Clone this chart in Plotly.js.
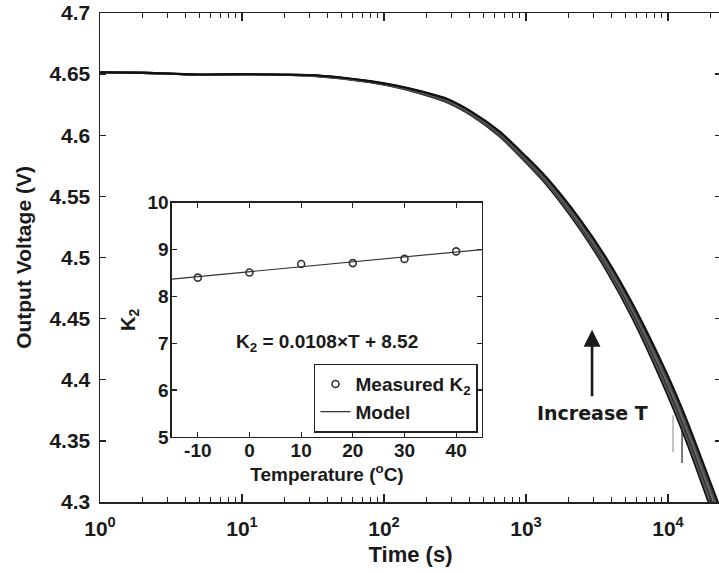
<!DOCTYPE html>
<html>
<head>
<meta charset="utf-8">
<script src="https://cdn.plot.ly/plotly-3.0.1.min.js"></script>
<style>
html,body{margin:0;padding:0;overflow:hidden;background:#fff;}
#chart{width:721px;height:573px;}
</style>
</head>
<body>
<div id="chart"></div>
<script>
// ---- main chart data: output voltage vs time (s), one curve per temperature ----
const timeS = [1, 2, 3, 5, 10, 20, 30, 50, 80, 120, 180, 280, 420, 650, 1000, 1400, 2400, 3700, 5700, 9800, 13600, 19800, 24000];
const voltTm10 = [4.6515, 4.651, 4.6505, 4.6493, 4.650, 4.6495, 4.6488, 4.6465, 4.6433, 4.6394, 4.6342, 4.6268, 4.6157, 4.5992, 4.5776, 4.5592, 4.5232, 4.4890, 4.4489, 4.3891, 4.3484, 4.2964, 4.2699];
const voltT0   = [4.6515, 4.651, 4.6505, 4.6494, 4.650, 4.6495, 4.6489, 4.6466, 4.6435, 4.6397, 4.6346, 4.6274, 4.6163, 4.6000, 4.5786, 4.5604, 4.5248, 4.4910, 4.4513, 4.3923, 4.3520, 4.3004, 4.2741];
const voltT10  = [4.6515, 4.651, 4.6505, 4.6495, 4.650, 4.6495, 4.649, 4.6468, 4.6437, 4.6399, 4.6349, 4.6279, 4.6169, 4.6008, 4.5796, 4.5616, 4.5264, 4.4930, 4.4537, 4.3955, 4.3556, 4.3044, 4.2783];
const voltT20  = [4.6515, 4.651, 4.6505, 4.6495, 4.650, 4.6495, 4.6491, 4.6469, 4.6439, 4.6402, 4.6353, 4.6285, 4.6175, 4.6016, 4.5806, 4.5628, 4.5280, 4.4950, 4.4561, 4.3987, 4.3592, 4.3084, 4.2825];
const voltT30  = [4.6515, 4.651, 4.6505, 4.6496, 4.650, 4.6495, 4.6492, 4.6471, 4.6441, 4.6405, 4.6357, 4.6290, 4.6181, 4.6024, 4.5816, 4.5640, 4.5296, 4.4970, 4.4585, 4.4019, 4.3628, 4.3124, 4.2867];
const voltT40  = [4.6515, 4.651, 4.6505, 4.6497, 4.650, 4.6495, 4.6493, 4.6473, 4.6443, 4.6408, 4.6361, 4.6296, 4.6187, 4.6032, 4.5826, 4.5652, 4.5312, 4.4990, 4.4609, 4.4051, 4.3664, 4.3164, 4.2909];
// two short measurement glitches near 1e4 s
const glitch1T = [10840, 10840];
const glitch1V = [4.371, 4.341];
const glitch2T = [12550, 12550];
const glitch2V = [4.359, 4.332];

// main axis ticks
const xTickVals = [1, 10, 100, 1000, 10000];
const xTickText = ['10<sup>0</sup>', '10<sup>1</sup>', '10<sup>2</sup>', '10<sup>3</sup>', '10<sup>4</sup>'];
const xMinorVals = [2,3,4,5,6,7,8,9,20,30,40,50,60,70,80,90,200,300,400,500,600,700,800,900,2000,3000,4000,5000,6000,7000,8000,9000,20000];
const yTickVals = [4.3, 4.35, 4.4, 4.45, 4.5, 4.55, 4.6, 4.65, 4.7];
const yTickText = ['4.3', '4.35', '4.4', '4.45', '4.5', '4.55', '4.6', '4.65', '4.7'];

// ---- inset data: K2 vs temperature ----
const tempC = [-10, 0, 10, 20, 30, 40];
const k2Measured = [8.4, 8.51, 8.69, 8.71, 8.8, 8.96];
const modelTemp = [-15, 45];
const modelK2 = [8.37, 9.0];
const insetXTicks = [-10, 0, 10, 20, 30, 40];
const insetXText = ['-10', '0', '10', '20', '30', '40'];
const insetYTicks = [5, 6, 7, 8, 9, 10];

const mainFont = 'Liberation Sans, Arial, Helvetica, sans-serif';
const insetFont = 'Liberation Sans Narrow, Arial Narrow, Liberation Sans, Arial, sans-serif';

const curveSets = [voltTm10, voltT0, voltT10, voltT20, voltT30, voltT40];
const curveColors = ['#111', '#555', '#333', '#666', '#444', '#111'];
const traces = curveSets.map((v, i) => ({
  x: timeS, y: v, type: 'scatter', mode: 'lines',
  line: {color: curveColors[i], width: 2.1, shape: 'spline', smoothing: 0.8},
  showlegend: false, xaxis: 'x', yaxis: 'y', hoverinfo: 'skip'
}));
traces.push({x: glitch1T, y: glitch1V, type: 'scatter', mode: 'lines', line: {color: '#999', width: 1.2}, showlegend: false, xaxis: 'x', yaxis: 'y'});
traces.push({x: glitch2T, y: glitch2V, type: 'scatter', mode: 'lines', line: {color: '#222', width: 1.2}, showlegend: false, xaxis: 'x', yaxis: 'y'});

traces.push({
  x: tempC, y: k2Measured, type: 'scatter', mode: 'markers', name: 'Measured K<sub>2</sub>',
  marker: {symbol: 'circle-open', size: 7, color: '#333', line: {width: 1.6, color: '#333'}},
  xaxis: 'x2', yaxis: 'y2'
});
traces.push({
  x: modelTemp, y: modelK2, type: 'scatter', mode: 'lines', name: 'Model',
  line: {color: '#333', width: 1.2},
  xaxis: 'x2', yaxis: 'y2'
});

const layout = {
  width: 721, height: 573,
  margin: {l: 100, r: 0, t: 13, b: 71},
  paper_bgcolor: '#fff', plot_bgcolor: '#fff',
  font: {family: mainFont, color: '#1a1a1a'},
  xaxis: {
    type: 'log', range: [0, 4.373], domain: [0, 1],
    tickmode: 'array', tickvals: xTickVals, ticktext: xTickText,
    ticks: 'inside', ticklen: 8, tickwidth: 1.3, tickcolor: '#222',
    minor: {tickmode: 'array', tickvals: xMinorVals, ticks: 'inside', ticklen: 5, tickwidth: 1, tickcolor: '#222'},
    showline: true, linecolor: '#222', linewidth: 1.5, mirror: 'ticks',
    showgrid: false, zeroline: false,
    tickfont: {size: 21, family: mainFont, color: '#1a1a1a', weight: 'bold'},
    ticklabelstandoff: 7,
    title: {text: '<b>Time (s)</b>', font: {size: 22, family: mainFont, color: '#1a1a1a'}, standoff: 8}
  },
  yaxis: {
    range: [4.3, 4.7], domain: [0, 1],
    tickmode: 'array', tickvals: yTickVals, ticktext: yTickText,
    ticks: 'inside', ticklen: 6, tickwidth: 1.3, tickcolor: '#222',
    showline: true, linecolor: '#222', linewidth: 1.5, mirror: 'ticks',
    showgrid: false, zeroline: false,
    tickfont: {size: 21, family: mainFont, color: '#1a1a1a', weight: 'bold'},
    ticklabelstandoff: 4,
    title: {text: '<b>Output Voltage (V)</b>', font: {size: 21, family: mainFont, color: '#1a1a1a'}, standoff: 12}
  },
  xaxis2: {
    anchor: 'y2', domain: [0.1159, 0.6151], range: [-15, 45],
    tickmode: 'array', tickvals: insetXTicks, ticktext: insetXText,
    ticks: 'inside', ticklen: 5, tickwidth: 1.2, tickcolor: '#222',
    showline: true, linecolor: '#222', linewidth: 1.5, mirror: 'ticks',
    showgrid: false, zeroline: false,
    tickfont: {size: 19, family: insetFont, color: '#1a1a1a', weight: 'bold'},
    ticklabelstandoff: -4,
    title: {text: '<b>Temperature (<sup>o</sup>C)</b>', font: {size: 19, family: insetFont, color: '#1a1a1a'}, standoff: 0}
  },
  yaxis2: {
    anchor: 'x2', domain: [0.1331, 0.6121], range: [5, 10],
    tickmode: 'array', tickvals: insetYTicks,
    ticks: 'inside', ticklen: 5, tickwidth: 1.2, tickcolor: '#222',
    showline: true, linecolor: '#222', linewidth: 1.5, mirror: 'ticks',
    showgrid: false, zeroline: false,
    tickfont: {size: 19, family: insetFont, color: '#1a1a1a', weight: 'bold'},
    ticklabelstandoff: -2,
    title: {text: '<b>K<sub>2</sub></b>', font: {size: 20, family: insetFont, color: '#1a1a1a'}, standoff: 6}
  },
  showlegend: true,
  legend: {
    x: 0.3446, y: 0.283, xanchor: 'left', yanchor: 'top',
    bgcolor: '#fff', bordercolor: '#222', borderwidth: 1.5,
    font: {size: 19, family: insetFont, color: '#1a1a1a', weight: 'bold'},
    itemwidth: 30, tracegroupgap: 0
  },
  annotations: [
    {xref: 'x2', yref: 'y2', x: 15, y: 7, text: '<b>K<sub>2</sub> = 0.0108×T + 8.52</b>', showarrow: false,
     font: {size: 19, family: insetFont, color: '#1a1a1a'}},
    {xref: 'x', yref: 'y', x: 3.465, y: 4.373, text: '<b>Increase T</b>', showarrow: false,
     font: {size: 19, family: 'DejaVu Sans, Verdana, sans-serif', color: '#1a1a1a'}},
    {xref: 'x', yref: 'y', x: 3.465, y: 4.4408, text: '', showarrow: true, ax: 0, ay: 68,
     arrowhead: 2, arrowsize: 1.3, arrowwidth: 2.6, arrowcolor: '#1a1a1a'}
  ]
};

Plotly.newPlot('chart', traces, layout, {displayModeBar: false, staticPlot: true});
</script>
</body>
</html>
